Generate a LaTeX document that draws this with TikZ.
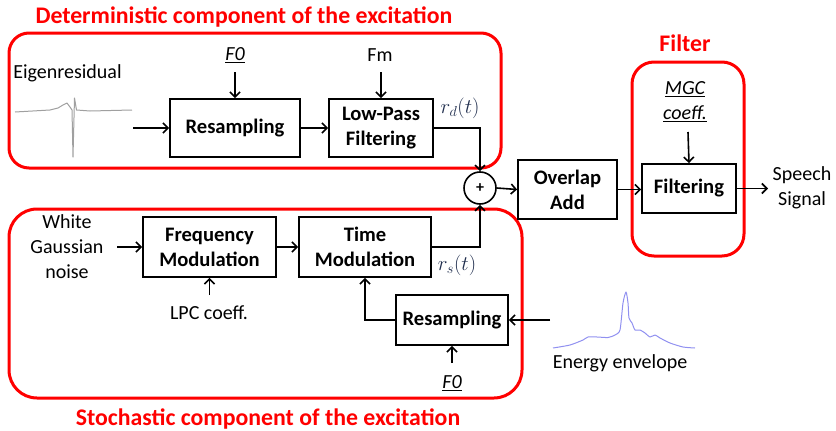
\documentclass[tikz,border=0pt]{standalone}
\usepackage{fontspec}
\setmainfont{Carlito}
\usetikzlibrary{arrows.meta}
\definecolor{envblue}{HTML}{9090F0}
\definecolor{eigray}{HTML}{A0A0A0}
\definecolor{mathnavy}{HTML}{1F2D4D}
\tikzset{
 blk/.style={draw, line width=1.8pt, align=center, font=\fontsize{20.6}{25}\selectfont\bfseries, inner sep=0pt},
 lbl/.style={align=center, font=\fontsize{20}{25}\selectfont, inner sep=0pt},
 mlbl/.style={text=mathnavy, font=\fontsize{22}{24}\selectfont, inner sep=0pt},
 grp/.style={draw=red, line width=3pt},
 ttl/.style={text=red, font=\fontsize{23.8}{26}\selectfont\bfseries, inner sep=0pt},
 conn/.style={line width=1.6pt, -{Straight Barb[length=5pt,width=10pt,line width=1.6pt]}},
}
\begin{document}
\begin{tikzpicture}[x=1pt,y=-1pt]
\useasboundingbox (0,0) rectangle (836,431);
% group frames
\draw[grp, rounded corners=20pt] (9,33) rectangle (501,168);
\draw[grp, rounded corners=28pt] (9,209) rectangle (522,398);
\draw[grp, rounded corners=22pt] (632,62) rectangle (744,256);
\node[ttl] (t1) at (244,17) {Deterministic component of the excitation};
\node[ttl] (t2) at (685,43) {Filter};
\node[ttl] (t3) at (268,419) {Stochastic component of the excitation};
% blocks
\node[blk, minimum width=130pt, minimum height=58pt] (res1) at (235,128) {Resampling};
\node[blk, minimum width=104pt, minimum height=58pt] (lpf) at (381,128) {Low-Pass\\Filtering};
\node[blk, minimum width=133pt, minimum height=60pt] (fm) at (209.5,247) {Frequency\\Modulation};
\node[blk, minimum width=132pt, minimum height=60pt] (tm) at (365,247) {Time\\Modulation};
\node[blk, minimum width=112pt, minimum height=50pt] (res2) at (452,320) {Resampling};
\node[blk, minimum width=99pt, minimum height=59pt] (ola) at (567.5,189.5) {Overlap\\Add};
\node[blk, minimum width=94pt, minimum height=49pt] (filt) at (689,188.5) {Filtering};
\node[draw, circle, line width=1.6pt, minimum size=32pt, inner sep=0pt, font=\fontsize{16}{16}\selectfont\bfseries] (sum) at (480,188) {+};
% labels
\node[lbl] (eig) at (67.5,73) {Eigenresidual};
\node[lbl] (f0a) at (235,55) {\underline{\itshape F0}};
\node[lbl] (fmlab) at (380,55) {Fm};
\node[mlbl] (rd) at (460,108) {$r_d(t)$};
\node[lbl] (wgn) at (67,247) {White\\Gaussian\\noise};
\node[lbl] (lpc) at (209,313) {LPC coeff.};
\node[mlbl] (rs) at (457,265) {$r_s(t)$};
\node[lbl] (f0b) at (452,383) {\underline{\itshape F0}};
\node[lbl] (env) at (620,363) {Energy envelope};
\node[lbl] (mgc) at (685,102) {\itshape\underline{MGC}\\\itshape\underline{coeff.}};
\node[lbl] (speech) at (802,188) {Speech\\Signal};
% waveforms
\draw[eigray, line width=1pt, line join=round] (15,112) -- (50,110) -- (58,108) -- (63,105) -- (67,103) -- (70,107) -- (72,110) -- (73,157) -- (74.5,98) -- (76.5,110) -- (90,111) -- (132,110);
\draw[envblue, line width=1pt, line join=round] plot[smooth, tension=0.4] coordinates {(553,348) (570,345) (583,340) (588,337) (597,337) (608,337.5) (615,335) (620,330) (623,303) (626,292) (628,303) (629,318) (632,323) (635,330) (640,330) (645,333) (650,337) (655,335) (660,338) (670,343) (683,347) (695,348)};
% free ends
\coordinate (eigout) at (133,128);
\coordinate (f0atip) at (235,72);
\coordinate (fmtip) at (381,72);
\coordinate (wgnout) at (117,247);
\coordinate (lpctip) at (209.5,295);
\coordinate (envout) at (550,320);
\coordinate (f0btip) at (452,363);
\coordinate (mgctip) at (688,132);
\coordinate (speechin) at (768,188.5);
% connectors
\draw[conn] (eigout) -- (res1.west);
\draw[conn] (f0atip) -- (res1.north);
\draw[conn] (res1.east) -- (lpf.west);
\draw[conn] (fmtip) -- (lpf.north);
\draw[conn] (lpf.east) -| (sum.north);
\draw[conn] (wgnout) -- (fm.west);
\draw[conn] (lpctip) -- (fm.south);
\draw[conn] (fm.east) -- (tm.west);
\draw[conn] (tm.east) -| (sum.south);
\draw[conn] (res2.west) -| (tm.south);
\draw[conn] (envout) -- (res2.east);
\draw[conn] (f0btip) -- (res2.south);
\draw[conn] (sum.east) -- (ola.west);
\draw[conn] (ola.east) -- (filt.west |- ola.east);
\draw[conn] (mgctip) -- (filt.north);
\draw[conn] (filt.east) -- (speechin);
\end{tikzpicture}
\end{document}
